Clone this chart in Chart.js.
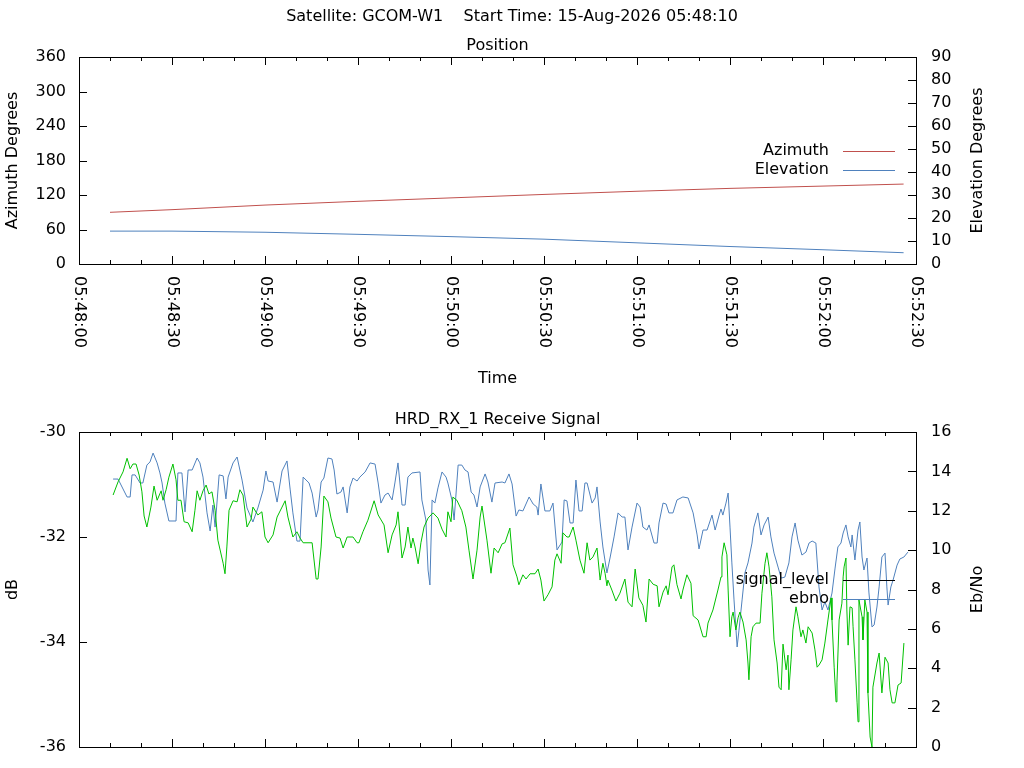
<!DOCTYPE html>
<html>
<head>
<meta charset="utf-8">
<title>GCOM-W1 pass</title>
<script src="https://cdn.jsdelivr.net/npm/chart.js@4.4.1/dist/chart.umd.min.js"></script>
<style>
  html, body { margin: 0; padding: 0; background: #fff; overflow: hidden; }
  #wrap { position: relative; width: 1024px; height: 768px; }
  canvas { position: absolute; left: 0; }
  #posChart { top: 0; }
  #sigChart { top: 400px; }
</style>
</head>
<body>
<div id="wrap">
  <canvas id="posChart" width="1024" height="400"></canvas>
  <canvas id="sigChart" width="1024" height="368"></canvas>
</div>
<script>
'use strict';

var headerText = 'Satellite: GCOM-W1    Start Time: 15-Aug-2026 05:48:10';

// x axis is seconds after 05:48:00
var timeMajorTicks = [0, 30, 60, 90, 120, 150, 180, 210, 240, 270];
var timeMinorStep = 10;

// position plot
var posTime = [10, 30, 60, 90, 120, 150, 180, 210, 240, 266];
var azimuth = [89.9, 94.5, 102.5, 109, 115, 121, 126.5, 131.5, 135.5, 139];
var elevation = [14.3, 14.3, 13.8, 12.9, 11.9, 10.8, 9.2, 7.6, 6.2, 4.9];

// receive signal plot
var sigTime = [11.0,12.6,14.2,15.5,16.5,17.4,18.4,19.4,20.3,21.0,
  21.9,23.2,24.2,25.2,26.5,27.1,28.1,29.0,30.3,31.3,
  31.9,32.9,33.9,35.2,36.5,37.4,38.1,39.0,40.0,41.0,
  41.9,42.9,43.9,44.8,46.5,47.1,47.7,48.4,49.7,51.0,
  51.9,52.9,54.2,55.5,56.1,57.7,59.0,60.0,61.0,62.6,
  63.9,65.5,66.5,67.4,69.0,70.3,71.3,72.3,75.2,76.5,
  77.1,78.1,79.0,80.3,81.3,82.9,84.2,85.2,86.5,88.4,
  89.7,90.3,91.6,93.2,95.2,96.5,98.4,99.7,101.0,102.3,
  102.9,104.2,105.2,106.1,107.1,107.7,108.4,109.4,110.3,111.3,
  112.6,114.2,115.8,117.1,118.4,119.0,120.0,120.6,121.9,123.5,
  124.8,125.8,127.1,128.4,129.4,130.0,131.6,132.9,133.9,135.2,
  136.5,137.4,139.0,140.0,141.3,141.9,143.2,144.2,145.5,147.1,
  148.1,149.0,150.0,151.3,152.6,153.5,154.2,155.5,156.1,157.4,
  158.1,159.4,160.3,161.6,162.9,163.9,164.8,165.8,167.1,168.1,
  169.0,169.7,170.3,170.6,171.9,173.2,174.5,176.1,177.1,178.4,
  179.4,180.6,181.9,182.9,183.9,185.2,186.5,187.1,188.4,189.4,
  190.0,191.3,191.9,192.9,194.2,194.8,196.1,197.4,198.1,199.7,
  201.3,202.3,202.9,204.5,206.1,207.1,207.4,208.1,209.0,209.4,
  210.0,210.6,211.0,211.9,212.6,213.2,214.2,215.2,215.8,216.1,
  216.8,217.4,218.4,219.7,220.3,221.3,221.9,222.6,223.5,224.2,
  225.2,225.8,226.5,227.1,228.1,228.7,229.0,229.7,230.3,231.3,
  231.9,232.9,233.5,234.5,235.2,236.5,237.4,238.1,238.7,239.7,
  240.6,241.6,242.6,242.9,243.6,244.2,244.5,245.2,246.1,246.5,
  246.8,247.4,247.7,248.1,248.7,249.4,249.7,250.3,251.0,251.3,
  251.6,252.6,252.9,253.5,254.2,254.5,255.2,255.8,256.1,257.4,
  258.1,259.0,260.0,261.0,261.6,262.3,263.2,264.2,265.2,266.1];
var signalLevel = [-31.20,-30.95,-30.76,-30.50,-30.70,-30.61,-30.61,-30.82,-31.14,-31.60,
  -31.81,-31.43,-31.03,-31.30,-31.12,-31.30,-31.10,-30.86,-30.61,-30.91,
  -31.30,-31.30,-31.71,-31.73,-31.90,-31.49,-31.12,-31.30,-31.12,-31.01,
  -31.18,-31.14,-31.49,-32.06,-32.50,-32.70,-32.19,-31.49,-31.31,-31.33,
  -31.10,-31.20,-31.81,-31.66,-31.43,-31.58,-31.52,-32.00,-32.11,-31.96,
  -31.62,-31.43,-31.31,-31.62,-32.00,-31.90,-32.02,-32.11,-32.11,-32.80,
  -32.80,-32.19,-31.22,-31.33,-31.64,-32.00,-32.02,-32.21,-32.00,-32.00,
  -32.11,-32.11,-31.90,-31.68,-31.31,-31.58,-31.77,-32.30,-31.96,-31.77,
  -31.52,-32.40,-32.19,-31.81,-32.21,-32.02,-32.19,-32.51,-32.11,-31.81,
  -31.64,-31.54,-31.64,-31.85,-32.00,-31.52,-31.71,-31.24,-31.30,-31.50,
  -31.81,-32.25,-32.80,-32.25,-31.62,-31.41,-32.06,-32.69,-32.21,-32.30,
  -32.13,-32.11,-31.83,-32.53,-32.76,-32.91,-32.72,-32.80,-32.70,-32.70,
  -32.61,-32.82,-33.22,-33.10,-32.95,-32.44,-32.32,-32.50,-31.92,-32.00,
  -32.00,-31.81,-32.06,-32.44,-32.69,-32.11,-32.44,-32.38,-32.21,-32.82,
  -32.50,-32.69,-32.93,-32.82,-33.01,-33.22,-33.07,-32.80,-33.24,-33.33,
  -32.61,-33.16,-33.30,-33.62,-32.80,-32.90,-32.93,-33.33,-33.05,-32.93,
  -33.10,-32.57,-32.53,-32.91,-33.18,-33.01,-32.72,-32.88,-33.50,-33.58,
  -33.90,-33.90,-33.64,-33.39,-33.01,-32.76,-32.38,-32.11,-32.34,-33.01,
  -33.90,-33.52,-33.43,-33.77,-33.54,-33.43,-33.62,-33.96,-34.40,-34.72,
  -33.90,-33.71,-33.64,-33.64,-33.07,-32.50,-32.30,-32.57,-33.14,-33.96,
  -34.40,-34.86,-34.91,-34.04,-34.53,-34.25,-34.91,-34.34,-33.77,-33.33,
  -33.52,-33.90,-33.77,-34.02,-33.71,-33.83,-34.15,-34.48,-34.44,-34.34,
  -34.02,-33.58,-33.16,-33.58,-34.48,-35.14,-34.78,-33.58,-33.26,-32.76,
  -32.57,-32.40,-33.39,-34.06,-33.33,-33.35,-33.71,-34.34,-35.16,-35.52,
  -33.20,-33.52,-33.96,-33.20,-33.43,-34.97,-35.81,-36.00,-34.86,-34.40,
  -34.21,-34.97,-34.29,-34.40,-34.91,-35.16,-35.16,-34.82,-34.78,-34.02];

var ebnoTime = [11.0,12.6,15.5,16.5,17.1,18.1,19.7,20.6,21.9,22.9,
  23.9,25.2,26.1,26.8,27.7,29.0,31.3,31.9,33.2,34.2,
  35.2,36.5,38.1,39.0,40.0,41.3,42.3,43.2,43.9,45.2,
  46.5,47.4,48.1,49.7,51.0,52.6,54.2,56.1,57.7,59.4,
  60.3,61.0,62.6,63.9,65.5,67.1,68.1,69.0,70.3,71.3,
  72.3,74.2,75.2,76.5,77.1,78.1,79.0,80.3,81.6,82.3,
  83.2,84.5,85.2,86.5,87.4,88.4,89.7,90.6,92.3,93.9,
  95.5,96.5,97.4,98.7,99.7,101.0,101.9,102.9,104.2,105.2,
  106.1,107.4,110.0,110.6,111.9,112.6,113.2,113.9,114.8,115.8,
  117.1,118.4,119.0,120.3,121.0,122.3,123.5,124.5,125.5,126.5,
  127.4,128.4,129.4,131.0,131.9,133.2,134.2,136.5,137.4,138.7,
  139.7,141.0,141.9,143.2,145.2,146.5,147.7,148.1,149.0,150.3,
  151.9,152.9,154.2,155.8,156.5,157.4,158.4,159.4,160.3,161.3,
  162.3,163.2,163.9,165.5,166.5,167.1,168.1,169.0,170.3,171.3,
  172.6,173.9,175.2,176.1,177.1,178.4,180.0,181.0,181.9,183.2,
  183.9,185.5,186.5,187.1,188.4,189.4,190.3,191.6,192.9,194.8,
  196.5,198.1,199.4,200.0,201.3,202.6,204.2,205.2,206.5,207.1,
  207.7,208.7,209.4,210.0,210.6,211.3,212.3,212.9,213.9,214.8,
  215.8,217.1,217.7,219.0,220.0,221.0,222.3,223.2,224.2,225.5,
  226.5,227.7,229.0,230.0,231.0,231.9,233.2,234.5,235.5,236.5,
  237.7,238.7,239.7,240.6,241.6,242.9,243.9,244.8,245.8,246.5,
  247.4,248.1,249.0,249.4,250.3,251.3,251.9,252.6,253.2,254.2,
  254.8,255.8,256.5,257.4,258.1,259.0,260.0,260.6,261.0,261.9,
  262.6,263.9,264.8,266.1,267.4];
var ebno = [13.61,13.61,12.70,12.70,13.82,13.82,13.41,13.41,14.32,14.48,
  14.93,14.43,13.92,13.41,12.39,11.48,11.48,13.92,13.92,11.94,
  14.07,14.07,14.68,14.43,13.71,11.89,10.97,12.29,11.17,13.82,
  13.77,12.60,13.71,14.43,14.73,13.56,12.14,11.43,12.14,13.05,
  14.02,13.51,13.46,12.44,14.02,14.53,13.10,11.89,10.46,10.46,
  13.71,13.41,12.90,11.68,12.04,13.46,13.66,14.68,14.63,14.07,
  12.85,12.95,13.21,11.89,13.21,13.66,13.51,13.71,13.97,14.43,
  14.37,13.41,12.39,12.80,12.90,12.55,13.41,14.43,12.29,12.29,
  13.71,13.92,13.97,12.55,11.53,8.99,8.23,12.55,12.39,13.16,
  13.97,13.71,13.41,12.55,11.53,14.32,14.32,14.07,13.97,12.95,
  12.80,12.19,13.21,13.87,13.46,12.44,13.41,13.46,13.41,13.87,
  13.36,11.73,12.04,11.99,12.70,12.34,12.19,11.78,13.36,11.99,
  11.99,12.39,10.01,10.41,12.55,12.50,11.38,11.38,13.56,11.99,
  11.99,13.41,13.41,12.39,12.65,13.21,11.43,10.16,8.84,9.60,
  10.67,11.89,11.68,11.68,10.01,11.17,12.39,12.19,11.17,11.02,
  11.28,10.36,10.36,11.38,12.39,12.34,11.89,11.89,12.55,12.70,
  12.65,11.89,10.77,10.06,11.02,11.02,11.78,11.02,11.78,12.09,
  11.78,12.39,12.90,11.17,9.35,7.47,5.08,5.94,7.47,8.84,
  9.35,10.36,11.17,11.89,10.77,11.28,11.68,10.67,9.85,9.14,
  8.58,8.63,9.35,10.67,11.38,10.51,9.75,9.90,10.36,10.46,
  10.36,8.13,6.96,7.37,6.96,7.82,9.09,10.16,10.36,10.87,
  11.28,10.67,10.16,10.77,9.50,11.02,11.43,9.65,8.99,9.60,
  7.87,6.10,6.20,7.11,8.13,9.65,9.85,8.13,7.21,8.13,
  8.48,9.24,9.55,9.65,9.90];

var red = '#c0504d';
var blue = '#4f81bd';
var green = '#00c000';
var fontFamily = '"DejaVu Sans", sans-serif';
var fontSize = 16;

Chart.defaults.font.family = fontFamily;
Chart.defaults.font.size = fontSize;
Chart.defaults.color = '#000';

function pad2(n) {
  return (n < 10 ? '0' : '') + n;
}

function clockLabel(sec) {
  var total = 5 * 3600 + 48 * 60 + sec;
  return pad2(Math.floor(total / 3600)) + ':' + pad2(Math.floor(total % 3600 / 60)) + ':' + pad2(total % 60);
}

function toPoints(xs, ys) {
  var pts = [];
  for (var i = 0; i < xs.length; i++) {
    pts.push({ x: xs[i], y: ys[i] });
  }
  return pts;
}

// gnuplot style frame: border, inward ticks, rotated time labels, titles and key
var gnuFrame = {
  id: 'gnuFrame',
  afterDraw: function(chart, args, opts) {
    var ctx = chart.ctx;
    var area = chart.chartArea;
    var xs = chart.scales.x;
    var midX = (area.left + area.right) / 2;
    var midY = (area.top + area.bottom) / 2;

    ctx.save();
    ctx.strokeStyle = '#000';
    ctx.lineWidth = 1;
    ctx.strokeRect(area.left + 0.5, area.top + 0.5, area.right - area.left, area.bottom - area.top);

    ctx.beginPath();
    for (var t = 0; t <= 270; t += timeMinorStep) {
      var px = Math.round(xs.getPixelForValue(t)) + 0.5;
      var len = t % 30 === 0 ? 8 : 4;
      ctx.moveTo(px, area.bottom);
      ctx.lineTo(px, area.bottom - len);
      ctx.moveTo(px, area.top);
      ctx.lineTo(px, area.top + len);
    }
    chart.scales.y.ticks.forEach(function(tk) {
      var py = Math.round(chart.scales.y.getPixelForValue(tk.value)) + 0.5;
      ctx.moveTo(area.left, py);
      ctx.lineTo(area.left + 8, py);
    });
    chart.scales.y2.ticks.forEach(function(tk) {
      var py = Math.round(chart.scales.y2.getPixelForValue(tk.value)) + 0.5;
      ctx.moveTo(area.right, py);
      ctx.lineTo(area.right - 8, py);
    });
    ctx.stroke();

    ctx.fillStyle = '#000';
    ctx.font = fontSize + 'px ' + fontFamily;
    ctx.textBaseline = 'middle';

    if (opts.timeLabels) {
      ctx.textAlign = 'left';
      timeMajorTicks.forEach(function(t) {
        ctx.save();
        ctx.translate(Math.round(xs.getPixelForValue(t)), area.bottom + 12);
        ctx.rotate(Math.PI / 2);
        ctx.fillText(clockLabel(t), 0, 0);
        ctx.restore();
      });
    }

    ctx.textAlign = 'center';
    if (opts.header) {
      ctx.fillText(opts.header, chart.width / 2, 17);
    }
    ctx.fillText(opts.title, midX, opts.titleY);
    if (opts.xTitle) {
      ctx.fillText(opts.xTitle, midX, opts.xTitleY);
    }

    ctx.save();
    ctx.translate(13, midY);
    ctx.rotate(-Math.PI / 2);
    ctx.fillText(opts.yTitle, 0, 0);
    ctx.restore();
    ctx.save();
    ctx.translate(978, midY);
    ctx.rotate(-Math.PI / 2);
    ctx.fillText(opts.y2Title, 0, 0);
    ctx.restore();

    ctx.textAlign = 'right';
    opts.key.forEach(function(item, i) {
      var ky = opts.keyY[i];
      ctx.fillText(item.text, area.right - 87, ky);
      ctx.strokeStyle = item.color;
      ctx.beginPath();
      ctx.moveTo(area.right - 73, ky + 0.5);
      ctx.lineTo(area.right - 21, ky + 0.5);
      ctx.stroke();
    });
    ctx.restore();
  }
};

// fixed axis boxes so the plot area lands where gnuplot put it
function fixY(width) {
  return function(s) {
    s.width = width;
    s.paddingTop = 10;
    s.paddingBottom = 10;
  };
}

function baseScales(yMin, yMax, yStep, y2Min, y2Max, y2Step, xHeight) {
  return {
    x: {
      type: 'linear', min: 0, max: 270,
      ticks: { display: false, stepSize: 30 },
      grid: { display: false, drawTicks: false },
      border: { display: false },
      afterFit: function(s) { s.height = xHeight; }
    },
    y: {
      position: 'left', min: yMin, max: yMax,
      ticks: { stepSize: yStep, padding: 13, color: '#000' },
      grid: { display: false, drawTicks: false },
      border: { display: false },
      afterFit: fixY(79)
    },
    y2: {
      position: 'right', min: y2Min, max: y2Max,
      ticks: { stepSize: y2Step, padding: 15, color: '#000' },
      grid: { display: false, drawTicks: false },
      border: { display: false },
      afterFit: fixY(108)
    }
  };
}

new Chart(document.getElementById('posChart'), {
  type: 'line',
  data: {
    datasets: [
      { label: 'Azimuth', data: toPoints(posTime, azimuth), borderColor: red, yAxisID: 'y' },
      { label: 'Elevation', data: toPoints(posTime, elevation), borderColor: blue, yAxisID: 'y2' }
    ]
  },
  options: {
    responsive: false,
    animation: false,
    devicePixelRatio: 1,
    layout: { padding: { top: 57, left: 0, right: 0, bottom: 0 } },
    elements: { point: { radius: 0 }, line: { borderWidth: 1, tension: 0 } },
    plugins: {
      legend: { display: false },
      tooltip: { enabled: false },
      gnuFrame: {
        header: headerText,
        title: 'Position', titleY: 46,
        xTitle: 'Time', xTitleY: 379,
        yTitle: 'Azimuth Degrees', y2Title: 'Elevation Degrees',
        timeLabels: true,
        key: [{ text: 'Azimuth', color: red }, { text: 'Elevation', color: blue }],
        keyY: [151, 170]
      }
    },
    scales: baseScales(0, 360, 60, 0, 90, 10, 136)
  },
  plugins: [gnuFrame]
});

new Chart(document.getElementById('sigChart'), {
  type: 'line',
  data: {
    datasets: [
      { label: 'signal_level', data: toPoints(sigTime, signalLevel), borderColor: green, yAxisID: 'y' },
      { label: 'ebno', data: toPoints(ebnoTime, ebno), borderColor: blue, yAxisID: 'y2' }
    ]
  },
  options: {
    responsive: false,
    animation: false,
    devicePixelRatio: 1,
    layout: { padding: { top: 32, left: 0, right: 0, bottom: 0 } },
    elements: { point: { radius: 0 }, line: { borderWidth: 1, tension: 0 } },
    plugins: {
      legend: { display: false },
      tooltip: { enabled: false },
      gnuFrame: {
        title: 'HRD_RX_1 Receive Signal', titleY: 20,
        yTitle: 'dB', y2Title: 'Eb/No',
        timeLabels: false,
        key: [{ text: 'signal_level', color: '#000' }, { text: 'ebno', color: blue }],
        keyY: [180, 199]
      }
    },
    scales: baseScales(-36, -30, 2, 0, 16, 2, 21)
  },
  plugins: [gnuFrame]
});
</script>
</body>
</html>
